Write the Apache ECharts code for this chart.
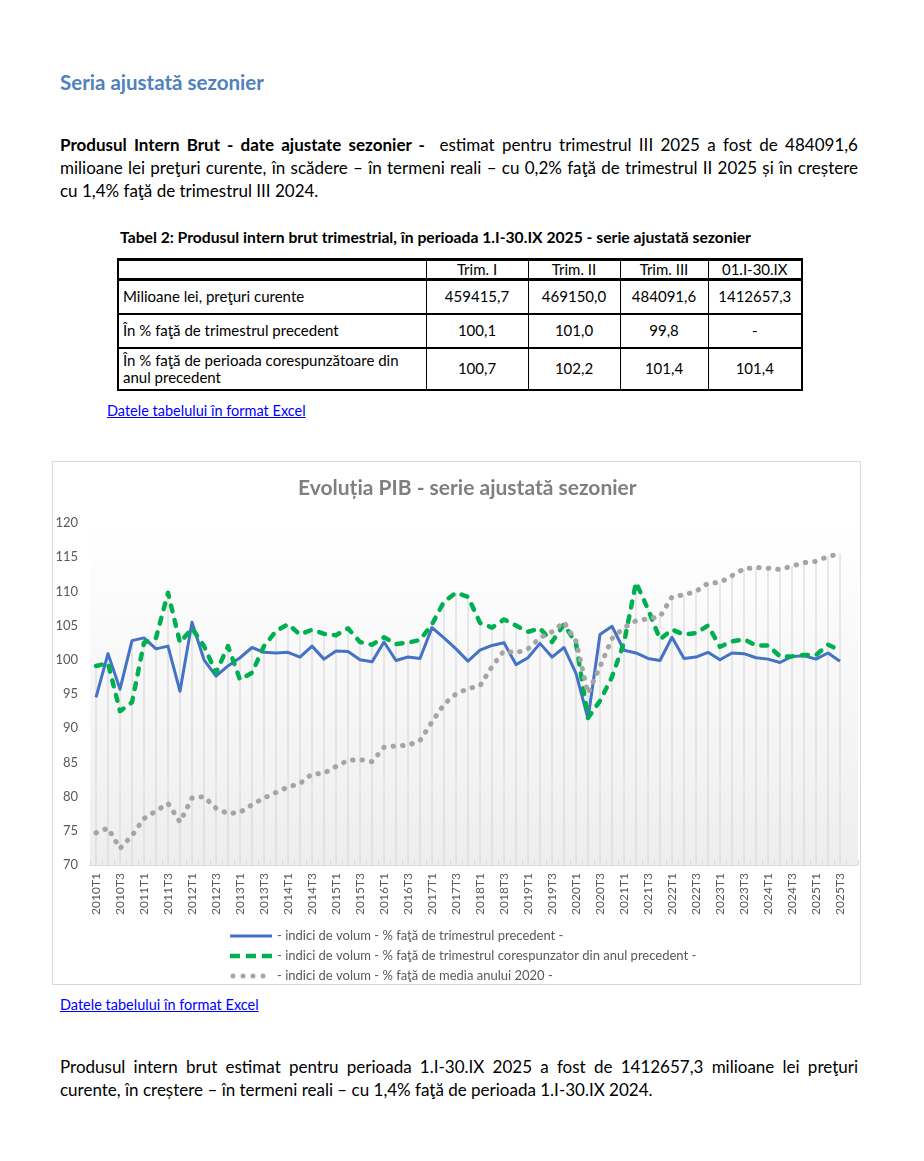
<!DOCTYPE html>
<html><head><meta charset="utf-8">
<script src="https://cdn.jsdelivr.net/npm/echarts@6/dist/echarts.min.js"></script>
<style>
body{margin:0;background:#fff;font-family:Lato,'Liberation Sans',sans-serif;color:#000;}
.abs{position:absolute;}
#h1{left:60px;top:70px;font-size:20.5px;line-height:24px;font-weight:bold;color:#4f81bd;}
.p{left:60px;width:798px;font-size:17px;line-height:23px;}
.jl{text-align:justify;text-align-last:justify;white-space:nowrap;}
#cap{left:120px;top:227px;font-size:15.7px;line-height:20px;font-weight:bold;}
#t{position:absolute;left:117px;top:258px;border-collapse:collapse;font-size:15px;table-layout:fixed;width:684px;}
#t td{border:1px solid #000;padding:0 4px;text-align:center;line-height:17px;white-space:nowrap;}
#t td:first-child{text-align:left;border-left:2px solid #000;}
#t td:last-child{border-right:2px solid #000;}
#t tr.r0 td{border-top:3px solid #000;border-bottom:3px solid #000;}
#t tr.r1 td,#t tr.r2 td,#t tr.r3 td{border-bottom:2px solid #000;}
a{color:#0000ff;text-decoration:underline;font-size:14.5px;line-height:17px;}
#box{left:52px;top:461px;width:809px;height:524px;box-sizing:border-box;border:1px solid #d9d9d9;}
#c{left:52px;top:461px;width:809px;height:524px;}
</style></head>
<body>
<div id="h1" class="abs">Seria ajustată sezonier</div>
<div class="abs p" style="top:133px;">
<div class="jl"><b>Produsul Intern Brut - date ajustate sezonier - </b>&nbsp;estimat pentru trimestrul III 2025 a fost de 484091,6</div>
<div class="jl">milioane lei preţuri curente, în scădere – în termeni reali – cu 0,2% faţă de trimestrul II 2025 și în creștere</div>
<div>cu 1,4% faţă de trimestrul III 2024.</div>
</div>
<div id="cap" class="abs">Tabel 2: Produsul intern brut trimestrial, în perioada 1.I-30.IX 2025 - serie ajustată sezonier</div>
<table id="t">
<colgroup><col style="width:308px"><col style="width:102px"><col style="width:92px"><col style="width:88px"><col style="width:94px"></colgroup>
<tr class="r0" style="height:20px"><td></td><td>Trim. I</td><td>Trim. II</td><td>Trim. III</td><td>01.I-30.IX</td></tr>
<tr class="r1" style="height:34px"><td>Milioane lei, preţuri curente</td><td>459415,7</td><td>469150,0</td><td>484091,6</td><td>1412657,3</td></tr>
<tr class="r2" style="height:34px"><td>În % faţă de trimestrul precedent</td><td>100,1</td><td>101,0</td><td>99,8</td><td>-</td></tr>
<tr class="r3" style="height:42px"><td>În % faţă de perioada corespunzătoare din<br>anul precedent</td><td>100,7</td><td>102,2</td><td>101,4</td><td>101,4</td></tr>
</table>
<a class="abs" style="left:107px;top:402px;" href="#">Datele tabelului în format Excel</a>
<div id="box" class="abs"></div>
<div id="c" class="abs"></div>
<a class="abs" style="left:60px;top:996px;" href="#">Datele tabelului în format Excel</a>
<div class="abs p" style="top:1055px;">
<div class="jl">Produsul intern brut estimat pentru perioada 1.I-30.IX 2025 a fost de 1412657,3 milioane lei preţuri</div>
<div>curente, în creștere – în termeni reali – cu 1,4% faţă de perioada 1.I-30.IX 2024.</div>
</div>
<script>
const categories = [
'2010T1','2010T2','2010T3','2010T4','2011T1','2011T2','2011T3','2011T4',
'2012T1','2012T2','2012T3','2012T4','2013T1','2013T2','2013T3','2013T4',
'2014T1','2014T2','2014T3','2014T4','2015T1','2015T2','2015T3','2015T4',
'2016T1','2016T2','2016T3','2016T4','2017T1','2017T2','2017T3','2017T4',
'2018T1','2018T2','2018T3','2018T4','2019T1','2019T2','2019T3','2019T4',
'2020T1','2020T2','2020T3','2020T4','2021T1','2021T2','2021T3','2021T4',
'2022T1','2022T2','2022T3','2022T4','2023T1','2023T2','2023T3','2023T4',
'2024T1','2024T2','2024T3','2024T4','2025T1','2025T2','2025T3',''];
const qoq = [94.5,100.9,95.7,102.8,103.2,101.6,102.0,95.4,
105.5,100.0,97.6,99.1,100.3,101.8,101.1,101.0,
101.1,100.4,102.0,100.1,101.3,101.2,100.0,99.7,
102.6,99.9,100.4,100.2,104.7,103.2,101.6,99.8,
101.4,102.1,102.5,99.3,100.3,102.4,100.4,101.8,
98.0,91.4,103.7,104.9,101.4,101.0,100.2,99.9,
103.3,100.2,100.4,101.1,100.0,101.0,100.9,100.3,
100.1,99.6,100.5,100.6,100.1,101.0,99.8];
const yoy = [99.1,99.5,92.5,93.8,102.5,103.2,109.8,102.5,
104.6,102.0,98.1,102.0,97.1,98.1,102.0,104.2,
105.2,103.7,104.4,103.8,103.6,104.6,102.6,102.2,
103.3,102.3,102.5,102.9,105.2,108.5,109.8,109.2,
105.4,104.7,105.9,105.0,104.1,104.6,102.6,105.2,
102.4,91.5,94.0,97.5,102.5,111.3,107.4,103.0,
104.4,103.7,103.9,105.0,101.9,102.7,103.0,102.1,
102.1,100.5,100.5,100.7,100.7,102.2,101.4];
const idx2020 = [74.7,75.4,72.4,74.3,76.8,77.9,79.0,76.3,
79.8,80.0,78.3,77.5,77.7,78.8,79.8,80.6,
81.4,81.9,83.3,83.4,84.4,85.3,85.4,85.1,
87.2,87.4,87.5,88.2,90.9,93.5,95.0,95.8,
96.2,99.0,101.3,101.0,101.6,103.2,104.1,105.5,
102.7,95.1,99.0,103.1,104.7,105.7,106.0,106.3,
109.2,109.5,110.0,111.2,111.3,112.3,113.3,113.5,
113.4,113.2,113.7,114.2,114.4,115.1,115.5];
const yTicks = {min:70, max:120, interval:5};
const names = [
'- indici de volum - % faţă de trimestrul precedent -',
'- indici de volum - % faţă de trimestrul corespunzator din anul precedent -',
'- indici de volum - % faţă de media anului 2020 -'];
const title = 'Evoluția PIB - serie ajustată sezonier';

const dropLines = qoq.map((v,i)=>Math.max(v, yoy[i], idx2020[i]));
const chart = echarts.init(document.getElementById('c'), null, {renderer:'canvas'});
const ff = 'Lato';
chart.setOption({
  animation:false,
  textStyle:{fontFamily:ff},
  title:{text:title,left:246,top:17,padding:0,
    textStyle:{fontFamily:ff,fontSize:21,fontWeight:'bold',color:'#7f7f7f'}},
  legend:{orient:'vertical',left:178,top:468,padding:0,itemWidth:42,itemHeight:14,itemGap:6,
    itemStyle:{borderWidth:0},
    textStyle:{fontFamily:ff,fontSize:13,color:'#595959'},
    data:[
      {name:names[0],icon:'path://M0,0M42,14M0,5.5h42v3h-42z'},
      {name:names[1],icon:'path://M0,0M42,14M0,4.75h10v4.5h-10zM16,4.75h10v4.5h-10zM32,4.75h10v4.5h-10z'},
      {name:names[2],icon:'path://M0,0M42,14M0.5,7a2.5,2.5 0 1,0 5,0a2.5,2.5 0 1,0 -5,0zM10.5,7a2.5,2.5 0 1,0 5,0a2.5,2.5 0 1,0 -5,0zM20.5,7a2.5,2.5 0 1,0 5,0a2.5,2.5 0 1,0 -5,0zM30.5,7a2.5,2.5 0 1,0 5,0a2.5,2.5 0 1,0 -5,0z'}
    ]},
  grid:{left:38,right:3,top:62,bottom:120,show:true,borderWidth:0,
    backgroundColor:new echarts.graphic.LinearGradient(0,0,0,1,[
      {offset:0,color:'#ffffff'},{offset:0.13,color:'#fdfdfd'},{offset:1,color:'#eeeeee'}])},
  xAxis:{type:'category',data:categories,boundaryGap:true,
    axisLine:{lineStyle:{color:'#d9d9d9',width:1}},
    axisTick:{show:true,inside:true,length:5,interval:0,lineStyle:{color:'#d9d9d9'}},
    axisLabel:{rotate:90,interval:1,margin:8,fontFamily:ff,fontSize:12,color:'#595959'},
    splitLine:{show:false}},
  yAxis:{type:'value',min:yTicks.min,max:yTicks.max,interval:yTicks.interval,
    axisLine:{show:false},axisTick:{show:false},splitLine:{show:false},
    axisLabel:{margin:12,fontFamily:ff,fontSize:13,color:'#595959'}},
  series:[
    {type:'bar',data:dropLines,barWidth:1,silent:true,itemStyle:{color:'#d4d4d4'},z:1},
    {name:names[0],type:'line',data:qoq,symbol:'none',z:3,
      itemStyle:{color:'#4472c4'},lineStyle:{color:'#4472c4',width:3,join:'round'}},
    {name:names[1],type:'line',data:yoy,symbol:'none',z:4,
      itemStyle:{color:'#00b050'},lineStyle:{color:'#00b050',width:4.5,type:[6,9],cap:'round',join:'round'}},
    {name:names[2],type:'line',data:idx2020,symbol:'none',z:5,
      itemStyle:{color:'#a5a5a5'},lineStyle:{color:'#a5a5a5',width:5,type:[0.5,9],cap:'round',join:'round'}}
  ]
});
</script>
</body></html>
